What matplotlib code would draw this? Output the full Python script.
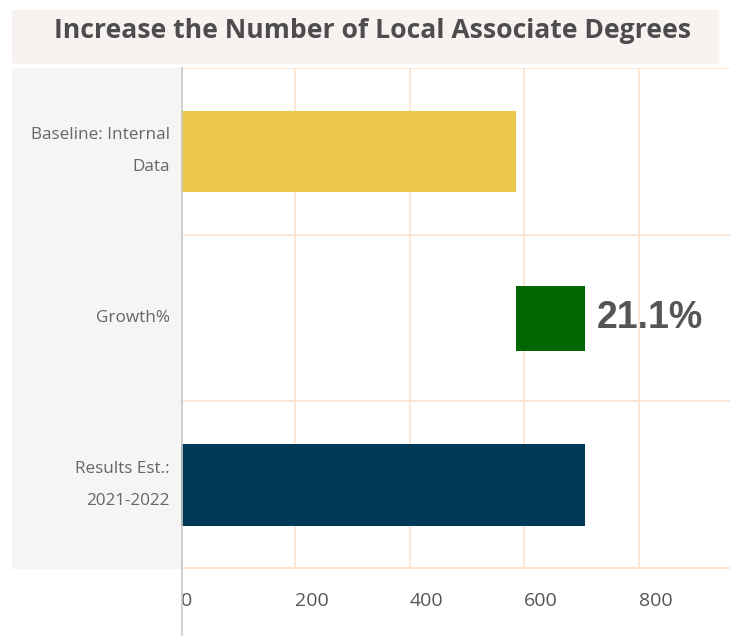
import matplotlib.pyplot as plt
from matplotlib.patches import Rectangle

categories = ["Baseline: Internal\nData", "Growth%", "Results Est.:\n2021-2022"]
baseline = 585
results = 707
growth_label = "21.1%"
xticks = [0, 200, 400, 600, 800]

fig = plt.figure(figsize=(7.3, 6.41), dpi=100)
W, H = 730, 641

# title band and label panel backgrounds (drawn under the axes)
fig.patches.append(Rectangle((12 / W, 1 - 63 / H), 706 / W, 53 / H,
                             transform=fig.transFigure, color="#f8f2f1", zorder=-5))
fig.patches.append(Rectangle((12 / W, 1 - 568 / H), 169 / W, 500 / H,
                             transform=fig.transFigure, color="#f7f5f3", zorder=-5))
fig.text(372 / W, 1 - 31 / H, "Increase the Number of Local Associate Degrees",
         ha="center", va="center", fontsize=19.1, fontweight="bold",
         color="#4d4d4d", family="Open Sans")

ax = fig.add_axes([181 / W, 1 - 568 / H, 549 / W, 500 / H])
ax.set_facecolor("none")

ax.barh(0, baseline, height=0.49, color="#ebc84a")
ax.barh(1, results - baseline, left=baseline, height=0.39, color="#006600")
ax.barh(2, results, height=0.49, color="#003a57")
ax.text(results + 20, 1, growth_label, va="center", ha="left", fontsize=27,
        fontweight="bold", color="#555555", family="Liberation Sans")

ax.set_xlim(0, 960)
ax.set_ylim(2.5, -0.5)
ax.set_xticks(xticks)
ax.set_xticklabels([str(t) for t in xticks], fontsize=14, color="#555555",
                   family="Open Sans")
ax.set_yticks([0, 1, 2])
ax.set_yticklabels(categories, fontsize=12.3, color="#666666", family="Open Sans",
                   linespacing=2.35, va="center")
ax.tick_params(axis="y", length=0, pad=8)
ax.tick_params(axis="x", length=0, pad=17)
for lab in ax.get_xticklabels():
    lab.set_horizontalalignment("left")

grid_c = "#fde3cc"
for t in xticks[1:]:
    ax.axvline(t, color=grid_c, lw=1.2, zorder=0)
for y in [-0.5, 0.5, 1.5]:
    ax.axhline(y, color=grid_c, lw=1.2, zorder=0)

for s in ["top", "right"]:
    ax.spines[s].set_visible(False)
ax.spines["bottom"].set_color(grid_c)
ax.spines["bottom"].set_linewidth(1.5)
ax.spines["left"].set_visible(False)
fig.add_artist(plt.Line2D([181.5 / W, 181.5 / W], [1 - 68 / H, 1 - 635 / H],
                          color="#c8c8c8", lw=1.2))

fig.savefig("out.png", dpi=100)
